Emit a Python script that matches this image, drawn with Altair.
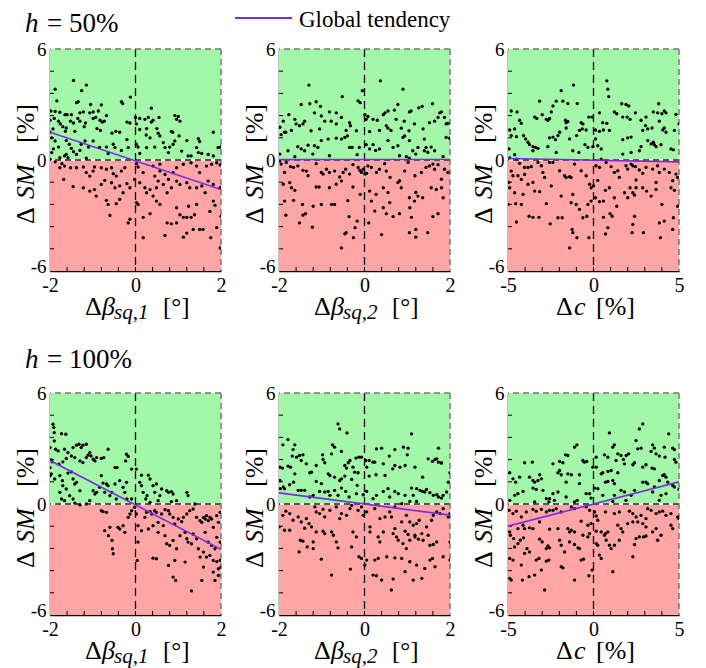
import altair as alt
import pandas as pd

# ---------------- data ----------------
# h = 50 %, delta beta_sq,1
P1 = [(-1.45,4.3),(-1.15,4.05),(-1.88,3.83),(-1.26,3.75),(-0.12,3.4),(-0.33,3.15),(-0.3,3.05),(-1.38,3.1),(-1.34,3.15),(-1.84,3.2),(-1.05,3.0),(-0.8,2.98),(0.37,2.8),
(-1.98,2.65),(-1.88,2.62),(-1.77,2.58),(-1.65,2.45),(-1.6,2.45),(-1.5,2.45),(-1.3,2.55),(-1.22,2.6),(-1.07,2.55),(-0.99,2.6),(-0.87,2.65),(0.0,2.3),(0.1,2.25),(0.22,2.2),(0.3,2.3),(0.41,2.15),(0.55,2.3),(0.92,2.4),(1.0,2.35),(0.96,2.2),(1.04,2.1),(-0.68,2.4),
(-2.0,2.15),(-1.9,2.25),(-1.8,2.1),(-1.76,1.95),(-1.7,1.8),(-1.64,1.55),(-1.52,2.1),(-1.45,2.0),(-1.35,2.25),(-1.3,2.1),(-1.2,1.8),(-1.17,2.0),(-0.99,2.25),(-0.93,2.3),(-0.83,2.15),(-0.78,2.05),(-0.73,2.1),(-0.82,1.6),(-0.9,1.7),(-0.55,1.45),(-0.46,1.55),(-0.37,1.5),(-0.2,2.05),(-0.13,2.0),(-0.2,1.1),(0.02,1.95),(0.1,1.65),(0.26,1.7),(0.37,2.05),(0.5,1.7),(0.25,1.35),(0.34,1.2),(0.53,1.45),(0.57,1.3),(0.84,1.55),(0.87,1.5),(1.02,1.3),(1.2,1.05),(1.47,1.15),(1.5,1.0),(1.82,1.5),(-2.0,1.5),(-1.93,1.68),(-1.62,1.73),(-1.42,1.55),
(-1.96,1.2),(-1.88,1.03),(-1.8,0.7),(-1.92,0.6),(-1.96,0.4),(-1.62,1.05),(-1.55,0.85),(-1.5,0.63),(-1.45,0.45),(-1.62,0.3),(-1.58,0.12),(-1.66,0.22),(-1.38,0.3),(-1.3,0.52),(-1.27,0.85),(-1.18,1.03),(-1.1,0.7),(-0.99,1.03),(-0.84,0.68),(-0.68,0.7),(-0.64,0.35),(-0.52,0.85),(-0.48,0.67),(-0.33,0.52),(-0.17,0.67),(0.02,0.85),(0.06,0.7),(0.1,0.35),(0.26,0.67),(0.45,0.7),(0.65,0.94),(0.69,0.67),(0.8,0.7),(0.88,0.85),(0.92,1.03),(0.77,0.4),(1.08,0.48),(1.23,0.22),(1.3,0.22),(1.43,0.67),(1.47,0.4),(1.55,0.35),(1.7,0.3),(1.82,0.22),(1.93,0.67),(1.98,0.7),(-1.77,0.12),(-1.15,0.1),
(-2.0,0.04),(-1.88,-0.1),(-1.72,-0.2),(-1.66,-0.33),(-1.52,-0.42),(-1.38,-0.42),(-1.22,-0.38),(-1.15,-0.68),(-1.07,-0.87),(-0.99,-0.6),(-0.96,-0.38),(-0.8,-0.42),(-0.68,-0.5),(-0.56,-0.42),(-0.52,-0.74),(-0.45,-0.87),(-0.33,-0.6),(-0.25,-0.42),(0.02,-0.2),(0.06,-0.38),(0.18,-0.68),(0.41,-0.33),(0.45,-0.87),(0.57,-0.6),(0.69,-0.78),(0.88,-0.68),(0.96,-0.42),(1.12,-0.23),(1.3,-0.15),(1.43,-0.33),(1.5,-0.68),(1.66,-0.33),(1.78,-0.23),(1.9,-0.15),(1.98,-0.27),(0.57,-0.23),(-1.77,-0.42),
(-1.68,-1.05),(-1.46,-1.44),(-1.22,-1.5),(-1.07,-1.68),(-0.96,-1.6),(-0.92,-1.95),(-0.8,-1.32),(-0.72,-1.1),(-0.56,-1.23),(-0.48,-1.5),(-0.37,-1.4),(-0.29,-1.77),(-0.2,-1.28),(-0.13,-1.5),(-0.02,-1.05),(0.1,-1.23),(0.22,-1.5),(0.26,-1.77),(0.34,-1.6),(0.49,-1.5),(0.53,-1.14),(0.65,-1.32),(0.77,-1.05),(0.84,-1.5),(0.96,-1.14),(1.04,-1.32),(1.2,-1.23),(1.27,-1.5),(1.43,-1.5),(1.55,-1.4),(1.63,-1.77),(1.7,-1.14),(1.82,-1.32),(1.98,-1.5),(0.74,-1.77),(0.41,-1.95),
(-0.68,-2.18),(-0.64,-2.4),(-0.45,-2.36),(-0.37,-2.13),(-0.17,-3.4),(-0.13,-3.2),(0.02,-2.3),(0.06,-2.4),(0.18,-3.1),(0.34,-2.9),(0.49,-2.22),(0.57,-2.4),(0.74,-3.4),(0.84,-3.45),(1.04,-2.96),(1.12,-3.1),(1.2,-3.1),(1.3,-3.1),(1.38,-2.96),(1.43,-2.4),(1.82,-2.22),(1.86,-2.45),(1.74,-2.78),(2.0,-3.05),(-0.6,-3.0),(1.24,-2.5),(0.96,-2.58),
(0.18,-4.2),(0.69,-4.08),(1.12,-4.17),(1.2,-3.95),(1.35,-3.75),(1.5,-3.75),(1.58,-3.75),(1.76,-4.2),(1.9,-3.66),(1.98,-4.75),(0.96,-3.4)]

# h = 50 %, delta beta_sq,2
P2 = [(-1.3,4.05),(0.37,4.28),(0.9,3.83),(-0.05,3.75),(-0.52,3.43),(-0.15,3.2),(-0.1,3.1),(-1.48,3.0),(-1.28,3.04),(-1.13,3.15),(-1.03,2.9),(0.78,3.0),(1.05,2.6),(1.09,2.65),(1.27,2.82),(1.35,2.9),(1.59,3.04),(1.76,2.55),(1.8,2.6),
(-1.77,2.45),(-1.9,2.1),(-1.98,1.77),(-1.63,2.2),(-1.6,1.95),(-1.52,1.85),(-1.44,1.95),(-1.4,2.1),(-1.17,2.55),(-1.01,2.38),(-0.93,2.1),(-0.82,2.6),(-0.78,2.1),(-0.66,2.55),(-0.66,1.95),(-0.54,2.3),(-0.35,2.02),(-0.33,1.85),(-0.19,1.58),(0.01,2.45),(0.04,2.2),(0.08,2.35),(0.2,2.2),(0.3,2.15),(0.44,2.45),(0.48,2.55),(0.55,2.65),(0.7,2.7),(0.51,1.85),(0.55,1.72),(0.62,1.6),(0.74,2.2),(0.93,2.1),(1.17,1.95),(1.52,2.02),(1.64,2.1),(1.72,2.3),(1.87,2.3),(1.91,1.95),(1.95,1.98),(-1.84,1.5),(-1.71,1.6),(-1.25,1.58),(-1.05,1.68),(-0.43,1.6),(0.12,1.53),(0.35,1.6),(0.86,1.72),(1.04,1.58),(1.37,1.68),
(-1.95,1.37),(-1.87,1.5),(-1.79,0.5),(-1.56,0.72),(-1.48,0.6),(-1.4,0.5),(-1.32,0.8),(-1.17,0.77),(-1.09,0.68),(-1.01,1.05),(-0.85,1.13),(-0.66,1.18),(-0.54,1.13),(-0.46,1.22),(-0.4,1.3),(-0.35,0.68),(-0.29,0.68),(-0.12,0.68),(0.04,0.83),(0.12,0.6),(0.2,0.83),(0.26,0.52),(0.35,0.6),(0.55,1.05),(0.67,0.68),(0.78,0.77),(0.9,1.22),(0.94,1.3),(1.05,1.05),(1.13,0.5),(1.25,0.68),(1.4,1.13),(1.4,0.5),(1.44,0.68),(1.48,0.42),(1.56,0.7),(1.64,0.5),(1.91,1.22),(1.99,1.18),(-1.98,0.32),(-1.63,0.18),(-1.21,0.32),(-0.82,0.23),(-0.17,0.29),(0.82,0.23),(0.98,0.18),(1.05,0.1),(1.2,0.32),(1.84,0.18),
(-1.98,-0.04),(-1.95,-0.22),(-1.83,-0.13),(-1.73,-0.36),(-1.66,-0.4),(-1.87,-0.67),(-1.56,-0.32),(-1.36,-0.6),(-1.32,-0.85),(-1.01,-0.67),(-0.97,-0.76),(-0.82,-0.67),(-0.7,-0.6),(-0.58,-0.92),(-0.5,-0.67),(-0.44,-0.5),(-0.35,-0.76),(-0.27,-0.25),(-0.15,-0.4),(-0.11,-0.56),(-0.07,-0.67),(-0.03,-0.5),(0.01,-0.76),(0.05,-0.72),(0.08,-0.32),(0.16,-0.4),(0.28,-0.67),(0.35,-0.5),(0.47,-0.2),(0.51,-0.6),(0.6,-0.94),(0.82,-1.12),(0.94,-0.6),(1.02,-0.13),(1.18,-0.85),(1.33,-0.67),(1.44,-0.4),(1.52,-0.32),(1.6,-0.22),(1.64,-0.5),(1.72,-0.25),(1.87,-0.5),(1.95,-0.67),(1.8,-1.04),(-0.89,-0.5),(-1.13,-0.2),(-1.44,-0.56),
(-1.9,-1.31),(-1.75,-1.22),(-1.71,-1.5),(-1.63,-1.64),(-1.66,-2.18),(-1.87,-2.22),(-1.13,-1.46),(-1.06,-1.46),(-0.82,-1.5),(-0.66,-1.31),(-0.54,-1.14),(-0.27,-1.46),(0.27,-1.86),(0.44,-1.5),(0.55,-1.75),(0.78,-1.22),(0.86,-1.5),(1.05,-2.04),(1.2,-1.75),(1.25,-1.95),(1.36,-2.04),(1.56,-1.5),(1.68,-1.59),(1.8,-1.5),(1.84,-2.04),(0.16,-2.22),(0.12,-1.68),(-1.45,-2.4),(-1.2,-2.5),(-1.01,-2.4),(-0.77,-2.4),(-0.7,-2.4),(-0.39,-2.2),(-0.1,-1.86),(0.44,-2.58),(0.59,-2.3),(1.06,-2.58),(1.17,-2.22),
(-1.84,-2.98),(-1.44,-2.98),(-1.38,-2.9),(-1.52,-3.4),(-1.22,-3.63),(-0.36,-3.06),(-0.17,-3.3),(-0.22,-3.66),(-0.46,-3.99),(-0.43,-3.93),(-0.54,-4.75),(-0.26,-4.2),(0.1,-3.4),(0.24,-2.76),(0.4,-4.03),(0.51,-2.9),(0.67,-3.06),(0.82,-2.9),(1.1,-3.1),(1.05,-3.93),(1.2,-3.75),(1.2,-4.17),(1.48,-3.93),(1.6,-3.06),(1.72,-2.9)]

# h = 50 %, delta c
P3 = [(0.78,4.28),(0.84,3.83),(-1.17,4.05),(-1.89,3.75),(0.89,3.43),(-3.15,3.18),(-2.18,3.18),(-1.79,3.18),(-1.5,3.05),(-0.95,3.05),(-2.37,2.92),(1.65,3.04),(1.9,3.0),(2.06,2.92),(2.45,2.55),(3.81,3.04),(-4.81,2.65),(-4.47,2.6),(-3.44,2.32),(-3.31,2.25),(-3.0,2.45),(-2.76,2.2),(-2.67,2.15),(-2.57,2.25),(-2.47,2.6),(-1.64,2.15),(-1.6,2.02),(-1.5,2.08),(-0.27,2.32),(-0.08,2.32),(0.35,2.55),(0.54,2.02),(1.22,2.6),(1.36,2.5),(1.71,2.32),(1.97,2.32),(2.14,2.2),(2.78,2.15),(3.07,2.32),(3.5,2.6),(3.75,2.55),(4.0,2.5),(4.14,2.65),(4.24,2.55),(4.82,2.47),(3.85,2.1),(-4.32,2.15),(-4.22,1.98),(-0.72,2.02),(-0.62,1.95),
(-4.9,1.62),(-4.61,1.68),(-4.81,1.32),(-4.51,1.26),(-4.09,1.32),(-3.97,1.14),(-3.83,0.96),(-3.74,0.83),(-3.54,0.72),(-3.39,0.68),(-3.25,0.63),(-2.67,0.72),(-2.57,1.2),(-2.37,1.24),(-2.22,1.1),(-2.08,1.32),(-1.98,1.5),(-1.6,1.73),(-1.4,1.14),(-0.82,1.6),(-0.66,1.68),(-0.43,1.62),(0.12,1.62),(0.12,1.14),(0.35,1.55),(0.58,1.62),(0.78,1.98),(0.93,1.6),(1.71,1.1),(2.0,1.2),(2.2,1.24),(2.88,1.6),(3.04,1.86),(3.17,1.68),(3.42,1.73),(3.5,0.96),(3.56,0.83),(3.66,0.72),(3.95,0.83),(4.05,1.62),(4.14,1.73),(4.24,1.5),(4.73,1.6),(5.0,1.95),(2.78,0.72),(3.17,1.05),(3.37,0.87),(-0.99,1.32),(-0.5,0.83),(-0.33,0.68),(-0.04,0.72),(0.25,0.77),(0.45,0.6),(-3.54,0.5),(-2.18,0.41),(-1.21,0.5),(-0.86,0.41),(-4.94,0.6),(-4.61,0.29),(1.71,0.32),(2.2,0.41),(2.68,0.5),(4.53,0.6),(4.67,0.55),
(-4.9,0.11),(-4.51,0.05),(-4.32,-0.18),(-4.03,-0.4),(-3.83,-0.4),(-3.64,-0.36),(-4.81,-0.6),(-4.71,-0.85),(-4.42,-0.85),(-4.03,-0.78),(-4.22,-1.05),(-3.25,-0.13),(-3.05,-0.31),(-2.96,-0.67),(-2.86,-0.94),(-2.57,-0.13),(-2.37,-0.13),(-2.47,-1.4),(-1.98,-0.58),(-1.69,-0.85),(-1.6,-0.94),(-1.4,-0.9),(-1.31,-0.94),(-1.11,-0.22),(-0.72,-0.58),(-0.43,-0.85),(0.15,-0.31),(0.35,-0.4),(0.45,0.05),(0.74,-0.13),(1.03,-0.36),(1.22,-0.67),(1.42,-0.58),(1.51,-0.94),(1.9,-0.31),(2.0,-0.49),(2.2,-0.22),(2.3,-0.31),(2.45,-0.36),(2.68,-0.54),(2.88,-0.72),(3.07,-0.4),(3.46,-0.49),(3.75,-0.31),(3.85,-0.67),(4.14,-0.49),(4.43,-0.67),(4.63,-1.12),(4.82,-0.76),(4.92,-0.94),(-4.96,-1.21),(-3.83,-1.31),(-3.54,-1.21),(2.49,-1.08),(3.66,-1.21),
(-4.9,-1.5),(-4.61,-1.77),(-4.12,-1.86),(-3.44,-1.68),(-3.15,-1.71),(-1.89,-1.95),(-2.76,-2.36),(-5.0,-2.4),(-4.55,-2.36),(-4.22,-2.4),(-0.23,-1.31),(-0.14,-1.5),(0.0,-1.4),(0.12,-2.04),(0.25,-1.1),(0.35,-2.25),(0.58,-2.22),(0.7,-1.64),(0.93,-1.5),(1.22,-2.04),(1.36,-2.5),(1.81,-1.77),(2.0,-2.04),(2.14,-1.5),(2.3,-1.77),(2.4,-1.9),(2.49,-1.5),(2.88,-1.5),(3.11,-1.68),(3.37,-1.95),(3.66,-1.59),(4.0,-2.4),(4.53,-1.5),(4.73,-1.64),(4.92,-2.5),(-1.01,-2.4),(-0.82,-2.67),(-0.33,-2.4),(-0.14,-2.22),(-1.31,-2.31),(-1.21,-1.86),
(-4.51,-3.35),(-3.77,-3.04),(-3.54,-3.1),(-3.19,-3.1),(-2.53,-3.45),(-2.08,-3.12),(-1.83,-3.12),(-1.25,-3.75),(-1.21,-3.93),(-0.97,-4.2),(-1.4,-4.75),(-0.62,-3.12),(-0.39,-3.04),(-0.27,-4.2),(0.58,-3.1),(0.7,-4.0),(0.84,-3.66),(0.97,-2.9),(1.09,-3.04),(2.3,-3.48),(2.4,-3.04),(2.26,-3.93),(2.92,-3.93),(3.91,-4.2),(3.85,-3.4),(4.14,-3.3),(4.67,-3.12),(4.63,-3.75)]

# h = 100 %, delta beta_sq,1
P4 = [(-1.93,4.31),(-1.91,4.13),(-1.9,3.86),(-1.73,3.8),(-1.63,3.77),(-1.9,3.41),(-2.0,3.05),(-1.87,2.96),(-1.81,2.87),(-1.66,2.96),(-1.58,2.78),(-1.46,3.05),(-1.38,3.18),(-1.32,3.23),(-1.27,3.05),(-1.23,3.18),(-1.15,3.23),(-1.07,2.78),(-1.11,2.64),(-1.04,2.6),(-0.99,2.42),(-0.95,2.33),(-0.91,2.51),(-1.15,2.51),(-1.23,2.24),(-1.3,2.33),(-1.42,2.51),(-1.5,2.6),(-1.62,2.46),(-1.7,2.28),(-1.79,2.15),(-1.97,2.39),(-1.95,2.28),(-2.0,1.97),(-1.97,1.62),(-2.0,1.53),(-0.8,2.46),(-0.74,2.51),(-0.64,2.96),(-0.48,1.97),(-0.43,1.97),(-0.21,2.69),(-0.17,2.57),(-0.23,2.33),(-0.09,1.89),(0.02,1.89),(0.14,1.56),(0.3,1.56),(0.34,1.35),
(-1.89,1.35),(-1.77,1.53),(-1.71,1.26),(-1.7,0.99),(-1.58,1.67),(-1.5,1.74),(-1.46,1.35),(-1.42,1.08),(-1.38,1.17),(-1.3,0.72),(-1.62,0.81),(-1.77,0.63),(-1.73,0.27),(-1.66,0.18),(-1.54,0.45),(-1.46,0.27),(-1.42,0.05),(-1.3,-0.05),(-1.15,0.0),(-1.07,0.18),(-0.99,0.72),(-0.95,0.54),(-0.91,0.63),(-0.84,0.9),(-0.8,1.53),(-0.72,0.63),(-0.68,1.08),(-0.64,0.99),(-0.6,0.45),(-0.56,0.63),(-0.48,1.08),(-0.45,0.27),(-0.29,0.9),(-0.25,0.63),(-0.21,1.17),(-0.2,0.27),(-0.09,0.27),(0.1,1.17),(0.14,0.99),(0.18,0.63),(0.24,0.27),(0.27,0.45),(0.34,0.09),(0.41,0.99),(0.45,0.63),(0.49,1.08),(0.53,0.18),(0.57,0.45),(0.61,0.81),(0.73,0.72),(0.77,0.63),(0.84,0.67),(0.88,0.54),(0.96,0.18),(1.2,0.63),(1.23,0.45),(1.39,0.0),(0.84,0.13),(-0.76,1.13),(-0.37,1.26),
(-0.8,-0.36),(-0.76,-0.41),(-0.68,-0.45),(-0.72,-1.44),(-0.6,-1.26),(-0.41,-1.26),(-0.37,-1.35),(-0.25,-1.53),(-0.29,-1.17),(-0.17,-0.72),(-0.13,-0.54),(-0.09,-0.36),(-0.02,-0.18),(0.02,-0.54),(0.06,-1.17),(0.14,-1.44),(0.22,-0.72),(0.26,-0.45),(0.34,-0.41),(0.38,-0.54),(0.45,-0.36),(0.49,-0.45),(0.53,-0.99),(0.61,-0.54),(0.69,-0.31),(0.77,-0.36),(0.8,-0.54),(0.88,-0.72),(0.92,-1.08),(1.0,-0.81),(1.08,-0.95),(1.12,-0.72),(1.2,-0.54),(1.27,-0.36),(1.35,-0.27),(1.43,-0.72),(1.51,-0.9),(1.55,-0.99),(1.59,-0.72),(1.63,-0.81),(1.66,-0.63),(1.7,-0.9),(1.74,-0.72),(1.78,-0.81),(1.82,-1.26),(1.9,-0.63),(1.94,-0.99),(1.98,-0.45),(0.3,-1.35),(0.41,-1.17),(0.65,-1.17),
(-0.63,-1.71),(-0.55,-1.97),(-0.54,-2.42),(-0.52,-2.69),(0.06,-2.06),(0.04,-3.05),(0.41,-2.93),(0.49,-2.96),(0.53,-1.53),(0.69,-1.71),(0.73,-2.15),(0.8,-2.24),(0.88,-1.97),(0.96,-2.42),(1.04,-1.71),(1.16,-1.53),(1.2,-1.88),(1.23,-2.06),(1.31,-2.15),(1.35,-1.62),(1.43,-1.88),(1.47,-2.42),(1.59,-2.6),(1.63,-1.53),(1.7,-2.06),(1.78,-2.24),(1.86,-2.42),(1.9,-1.8),(1.98,-2.06),(1.66,-2.87),(1.74,-2.78),(1.82,-3.05),(1.9,-3.11),(1.98,-3.05),(0.92,-3.05),(0.77,-3.32),(1.16,-3.14),(1.51,-2.87),
(0.88,-3.95),(0.94,-4.13),(1.31,-4.7),(1.55,-4.13),(1.59,-3.41),(1.82,-3.68),(1.86,-4.13),(1.94,-3.86),(2.0,-3.41),(1.94,-3.5)]

# h = 100 %, delta beta_sq,2
P5 = [(-0.62,4.33),(-0.58,4.06),(-0.41,3.84),(1.1,3.79),(-1.79,3.48),(-1.91,3.2),(-1.63,3.2),(-1.67,2.94),(-0.75,3.2),(-0.7,3.07),(-0.77,2.71),(-0.98,2.66),(-0.54,2.84),(-0.34,2.35),(-0.2,2.48),(-0.13,2.53),(-0.07,2.53),(0.03,2.35),(0.11,2.35),(0.2,2.26),(0.24,2.26),(0.28,2.98),(0.4,3.02),(0.58,2.59),(0.71,2.94),(0.91,3.07),(1.02,3.02),(1.0,2.66),(1.73,3.02),(1.69,2.44),(1.73,2.26),(1.8,2.22),(1.59,2.3),
(-1.98,1.99),(-1.92,1.94),(-1.79,2.05),(-1.73,1.99),(-1.69,2.59),(-1.59,2.53),(-1.52,2.62),(-1.44,2.66),(-1.48,2.35),(-1.36,2.17),(-1.28,1.69),(-1.24,1.72),(-1.13,2.08),(-0.97,2.41),(-0.93,2.23),(-0.85,1.63),(-0.81,1.54),(-0.46,2.08),(-0.42,1.94),(-0.38,2.23),(-0.27,1.99),(-0.23,1.72),(-0.15,1.69),(0.05,1.99),(0.11,1.51),(0.27,1.58),(0.44,2.17),(0.48,1.54),(0.66,1.9),(0.71,2.08),(0.83,1.99),(0.95,2.08),(1.18,1.99),(1.36,1.45),(1.49,2.44),(1.65,2.41),(1.8,2.22),(2.0,1.69),(-1.63,1.63),(-1.13,1.22),(-0.7,1.45),(-0.58,1.27),(-0.54,1.36),(-0.46,1.51),(-0.3,1.33),(-0.17,1.01),
(-1.98,1.27),(-1.97,0.83),(-1.9,0.92),(-1.87,0.83),(-1.75,1.04),(-1.66,1.18),(-1.55,0.74),(-1.48,0.74),(-1.4,0.74),(-1.28,0.38),(-1.2,0.47),(-1.05,0.68),(-1.01,1.1),(-0.93,0.65),(-0.85,0.68),(-0.81,0.47),(-0.7,0.74),(-0.62,0.47),(-0.54,0.86),(-0.44,0.68),(-0.36,0.38),(-0.19,0.56),(-0.03,0.5),(0.05,0.68),(0.2,0.29),(0.28,0.47),(0.44,0.68),(0.55,0.83),(0.59,0.38),(0.71,0.68),(0.79,0.56),(0.95,0.47),(1.1,0.86),(1.14,0.47),(1.22,0.83),(1.3,0.74),(1.36,0.68),(1.41,0.65),(1.45,0.79),(1.53,0.61),(1.61,0.47),(1.69,0.5),(1.73,0.38),(1.8,0.32),(1.84,0.47),(1.92,0.65),(1.96,1.18),(1.06,0.14),(1.22,0.14),(0.87,0.02),
(-2.0,-1.24),(-1.91,-0.61),(-1.84,-0.39),(-1.75,-0.52),(-1.67,-0.88),(-1.55,-0.7),(-1.48,-0.97),(-1.36,-0.79),(-1.3,-1.06),(-1.24,-1.24),(-1.16,-0.16),(-1.13,-0.43),(-1.05,-0.52),(-0.97,-0.29),(-0.93,-0.7),(-0.81,-0.34),(-0.66,-0.16),(-0.58,-0.79),(-0.54,-0.52),(-0.42,-0.61),(-0.34,-0.25),(-0.3,-0.07),(-0.15,-0.34),(-0.07,-0.16),(-0.03,-0.61),(0.05,-0.43),(0.13,-1.24),(0.24,-0.25),(0.36,-0.79),(0.48,-0.7),(0.59,-0.43),(0.63,-0.7),(0.71,-0.16),(0.87,-0.97),(0.98,-0.61),(1.06,-0.97),(1.14,-1.15),(1.22,-1.06),(1.28,-0.88),(1.45,-1.24),(1.57,-0.88),(1.61,-0.61),(1.69,-0.43),(1.77,-0.52),(1.84,-0.25),(1.96,-0.7),(2.0,-0.52),(-1.87,-1.42),(-1.75,-1.42),(-1.4,-1.31),(-1.13,-1.51),(-0.97,-1.47),(-0.77,-1.51),(-0.27,-1.51),(0.44,-1.51),(0.71,-1.33),(0.95,-1.47),(1.02,-1.65),(1.18,-1.69),(1.34,-1.6),(1.49,-1.69),
(-1.5,-1.96),(-1.44,-2.01),(-1.53,-2.59),(-1.34,-2.32),(-1.2,-2.41),(-1.2,-2.05),(-0.93,-1.6),(-0.73,-1.69),(-0.66,-2.05),(-0.62,-2.37),(-0.3,-2.32),(-0.19,-1.78),(0.13,-1.51),(0.32,-1.78),(0.36,-2.05),(0.67,-1.6),(0.75,-1.78),(0.79,-1.96),(0.9,-2.14),(0.98,-2.41),(1.06,-1.96),(1.18,-1.78),(1.26,-1.9),(1.37,-1.96),(1.53,-2.23),(1.61,-2.19),(1.69,-2.05),(2.0,-2.05),(-1.01,-2.98),(-0.13,-2.85),(-0.07,-2.94),(0.05,-3.03),(0.24,-3.03),(0.32,-2.94),(0.52,-2.85),(0.71,-2.91),(0.87,-2.94),(1.06,-3.12),(1.53,-3.03),(1.59,-2.94),(1.84,-2.85),(2.0,-3.03),
(0.01,-3.3),(-0.33,-3.52),(-0.77,-3.84),(0.2,-3.84),(0.28,-3.88),(0.4,-4.11),(0.63,-4.65),(0.67,-4.06),(0.95,-3.66),(1.14,-4.11),(1.22,-3.3),(1.34,-4.02),(1.41,-3.48),(1.65,-3.39)]

# h = 100 %, delta c
P6 = [(2.88,4.33),(2.68,4.06),(4.4,3.79),(0.93,3.84),(2.49,3.43),(1.22,3.2),(1.13,3.07),(-0.97,3.2),(-1.11,3.07),(2.78,3.02),(3.46,3.2),(3.56,3.02),(4.14,3.07),(4.63,3.02),(4.73,2.94),(3.37,2.84),(3.66,2.71),(3.85,2.59),(4.18,2.53),(4.73,2.41),(4.82,2.26),(2.59,2.98),(1.91,2.62),(2.06,2.71),(1.61,2.62),(1.42,2.71),(0.64,2.66),(0.84,2.53),(0.16,2.53),(-1.63,2.66),(-1.5,2.62),(-0.62,2.35),(-0.53,2.26),(-0.39,2.3),(-1.98,2.3),(-2.37,2.17),(-1.79,2.23),(-4.03,2.23),(-3.58,2.26),(1.32,2.35),(1.75,2.41),(1.81,2.17),(2.3,2.12),(2.4,2.23),(2.88,1.99),(3.07,2.12),(3.42,1.94),(3.56,1.9),(-0.04,1.99),(0.16,1.99),
(-4.9,1.69),(-4.71,1.36),(-4.55,1.18),(-4.32,1.45),(-3.74,1.45),(-3.54,1.27),(-3.44,1.18),(-3.25,1.27),(-3.15,1.58),(-3.05,1.36),(-3.54,0.86),(-3.35,0.79),(-2.96,0.74),(-4.61,0.47),(-4.42,0.56),(-4.12,0.68),(-2.08,1.69),(-1.98,1.81),(-1.89,1.58),(-1.5,1.63),(-1.3,1.58),(-0.82,1.58),(-1.6,1.18),(-2.08,0.65),(-2.37,0.56),(-2.57,0.29),(-2.76,0.29),(-1.6,0.38),(-0.82,1.1),(-0.43,0.56),(-0.23,0.56),(-0.14,0.32),(0.06,0.86),(0.25,0.83),(0.45,1.63),(0.54,1.69),(0.7,1.18),(0.84,1.22),(1.13,1.27),(1.22,1.1),(1.03,1.81),(0.84,1.76),(1.42,1.69),(1.22,0.47),(1.61,0.74),(1.81,0.65),(2.2,0.47),(1.9,0.2),(2.4,0.74),(2.88,1.18),(3.07,1.18),(3.17,1.1),(3.46,0.65),(3.56,0.92),(3.85,1.27),(4.05,1.54),(4.14,1.58),(4.24,1.45),(4.34,1.18),(4.63,1.01),(4.73,0.92),(5.0,0.79),(3.85,0.2),(3.95,0.47),(4.24,0.56),(-4.9,0.2),(-3.44,0.11),(-2.61,0.11),(-2.28,0.2),(-1.11,0.11),(-0.95,0.2),(0.54,0.47),(1.13,0.14),
(-4.94,-0.34),(-4.71,-0.52),(-4.51,-0.39),(-4.22,-0.7),(-3.93,-0.43),(-3.54,-0.29),(-3.35,-0.39),(-3.05,-0.29),(-2.76,-0.43),(-2.57,-0.34),(-2.37,-0.34),(-2.18,-0.25),(-1.89,-0.43),(-1.3,-0.16),(-1.11,-0.25),(-0.43,-0.16),(-0.23,-0.34),(0.06,-0.43),(0.16,-0.65),(0.25,-0.88),(0.7,-0.43),(1.22,-0.52),(1.51,-0.43),(2.1,-0.39),(2.3,-0.52),(2.49,-0.7),(2.78,-0.61),(3.07,-0.79),(3.17,-0.25),(3.37,-0.34),(3.66,-0.52),(3.85,-0.43),(4.05,-0.39),(4.24,-0.61),(4.53,-0.52),(4.92,-0.7),(4.98,-0.79),(4.53,-1.15),(4.63,-1.33),(-4.9,-1.51),(-4.42,-1.33),(-4.12,-1.15),(-4.03,-1.33),(-3.74,-1.29),(-3.54,-1.33),(-3.15,-0.97),(-2.57,-1.36),(-2.08,-1.33),(-1.5,-1.33),(-1.4,-1.51),(-1.3,-1.42),(-1.11,-1.51),(-0.72,-0.93),(-0.33,-1.15),(-0.14,-1.06),(0.16,-1.47),(0.45,-1.51),(0.7,-1.6),(0.84,-1.51),(1.42,-1.15),(1.61,-1.33),(1.71,-1.51),(2.0,-1.06),(2.3,-0.97),(2.59,-0.97),(2.88,-1.06),(3.07,-1.24),(3.46,-1.51),(3.66,-1.33),
(-4.86,-1.69),(-4.67,-1.87),(-4.42,-2.14),(-4.28,-1.96),(-4.09,-1.83),(-4.61,-2.32),(-3.89,-2.41),(-3.74,-2.59),(-4.03,-2.67),(-3.15,-1.9),(-3.0,-2.05),(-2.67,-2.26),(-2.76,-2.41),(-2.57,-2.37),(-1.98,-1.96),(-1.89,-2.23),(-1.69,-2.59),(-1.4,-2.05),(-1.11,-2.19),(-0.91,-2.37),(-0.82,-2.41),(-0.62,-1.69),(-0.33,-1.78),(-0.23,-1.6),(0.16,-2.14),(0.25,-2.23),(0.35,-2.76),(0.45,-2.94),(0.64,-1.69),(0.74,-1.96),(0.93,-2.23),(1.03,-2.41),(1.22,-2.23),(1.51,-1.96),(2.3,-2.85),(2.4,-2.19),(2.49,-1.87),(2.68,-1.78),(2.92,-1.78),(3.07,-1.73),(3.75,-1.96),(3.95,-1.69),(-4.9,-2.94),(-4.71,-3.03),(-4.22,-3.3),
(-4.9,-4.02),(-4.81,-4.11),(-4.16,-4.11),(-3.77,-3.93),(-3.44,-3.84),(-3.35,-3.03),(-3.19,-2.94),(-3.05,-3.57),(-2.86,-4.65),(-2.76,-3.09),(-2.61,-3.03),(-1.89,-3.39),(-1.79,-3.45),(-1.11,-4.11),(-0.72,-3.03),(-0.58,-2.98),(-0.27,-3.88),(-0.08,-3.57),(1.13,-3.66)]

# global tendency end-points (value at left edge, value at right edge)
TREND_START = [1.5, 0.02, 0.08, 2.35, 0.6, -1.2]
TREND_END = [-1.6, 0.03, -0.1, -2.45, -0.6, 1.2]

X_DOMAINS = [[-2, 2], [-2, 2], [-5, 5]]
X_MAJOR = [[-2, 0, 2], [-2, 0, 2], [-5, 0, 5]]
X_MINOR = [[-1.6, -1.2, -0.8, -0.4, 0, 0.4, 0.8, 1.2, 1.6],
           [-1.6, -1.2, -0.8, -0.4, 0, 0.4, 0.8, 1.2, 1.6],
           [-4, -3, -2, -1, 0, 1, 2, 3, 4]]
Y_MAJOR = [-6, 0, 6]
Y_MINOR = [-4.8, -3.6, -2.4, -1.2, 1.2, 2.4, 3.6, 4.8]

X_SUBSCRIPTS = ["sq,1", "sq,2", None]
ROW_LABELS = ["50%", "100%"]
LEGEND_LABEL = "Global tendency"

# ---------------- style ----------------
W, H = 171, 222
GREEN = "#a2f7a8"
RED = "#ffa5a5"
PURPLE = "#7b2ae0"
FONT = "Liberation Serif"


def txt(s, x, y, size, style="normal", angle=0, baseline="alphabetic", align="left"):
    kw = dict(font=FONT, fontSize=size, fontStyle=style, align=align,
              baseline=baseline, color="black")
    if angle:
        kw["angle"] = angle
    return alt.Chart(pd.DataFrame({"t": [s]})).mark_text(**kw).encode(
        text="t:N", x=alt.value(x), y=alt.value(y))


def panel(pts, col, idx, row):
    xdom = X_DOMAINS[col]
    xs = alt.Scale(domain=xdom, nice=False, zero=False)
    ys = alt.Scale(domain=[-6, 6], nice=False, zero=False)
    ax_x = alt.Axis(values=X_MAJOR[col], title=None, ticks=False, grid=False,
                    labelFont=FONT, labelFontSize=20, labelColor="black", labelPadding=4,
                    labelFlush=False, labelOverlap=False, domainColor="black",
                    domainWidth=1.5, labelExpr="replace(datum.label, '\u2212', '-')")
    ax_y = alt.Axis(values=Y_MAJOR, title=None, ticks=False, grid=False,
                    labelFont=FONT, labelFontSize=19, labelColor="black", labelPadding=4,
                    labelFlush=False, labelOverlap=False, domainColor="black",
                    domainWidth=1.5, labelExpr="replace(datum.label, '\u2212', '-')",
                    labelOffset={"condition": {"test": "datum.value < 0", "value": -5},
                                 "value": 0})

    def X(f):
        return alt.X(f, scale=xs, axis=ax_x)

    def Y(f):
        return alt.Y(f, scale=ys, axis=ax_y)

    bg = pd.DataFrame({"x": [xdom[0], xdom[0]], "x2": [xdom[1], xdom[1]],
                       "y": [0, -6], "y2": [6, 0], "c": ["up", "down"]})
    rect = alt.Chart(bg).mark_rect().encode(
        x=X("x:Q"), x2="x2:Q", y=Y("y:Q"), y2="y2:Q",
        color=alt.Color("c:N", scale=alt.Scale(domain=["up", "down"], range=[GREEN, RED]),
                        legend=None),
    )

    zero_white = alt.Chart(pd.DataFrame({"y": [0]})).mark_rule(
        color="white", strokeWidth=1.5).encode(y=Y("y:Q"))
    zero_dash = alt.Chart(pd.DataFrame({"y": [0]})).mark_rule(
        color="#222222", strokeWidth=1.3, strokeDash=[6, 4]).encode(y=Y("y:Q"))
    vert_dash = alt.Chart(pd.DataFrame({"x": [0]})).mark_rule(
        color="black", strokeWidth=1.3, strokeDash=[8, 5]).encode(x=X("x:Q"))
    top_dash = alt.Chart(pd.DataFrame({"y": [6]})).mark_rule(
        color="#777777", strokeWidth=1.5, strokeDash=[6, 4]).encode(y=Y("y:Q"))
    right_dash = alt.Chart(pd.DataFrame({"x": [xdom[1]]})).mark_rule(
        color="#777777", strokeWidth=1.5, strokeDash=[6, 4]).encode(x=X("x:Q"))

    xt = alt.Chart(pd.DataFrame({"x": X_MINOR[col]})).mark_rule(
        color="black", strokeWidth=1).encode(
        x=X("x:Q"), y=alt.value(H), y2=alt.value(H - 4))
    yt = alt.Chart(pd.DataFrame({"y": Y_MINOR})).mark_rule(
        color="black", strokeWidth=1).encode(
        y=Y("y:Q"), x=alt.value(0), x2=alt.value(4))

    df = pd.DataFrame(pts, columns=["x", "y"])
    dots = alt.Chart(df).mark_circle(size=11, color="black", opacity=1, clip=True).encode(
        x=X("x:Q"), y=Y("y:Q"))

    tr = pd.DataFrame({"x": xdom, "y": [TREND_START[idx], TREND_END[idx]]})
    trend = alt.Chart(tr).mark_line(color=PURPLE, strokeWidth=1.6, clip=True).encode(
        x=X("x:Q"), y=Y("y:Q"))

    layers = [rect, zero_white, zero_dash, vert_dash, top_dash, right_dash,
              xt, yt, dots, trend]

    # y axis title  "Δ SM [%]"
    layers += [txt("Δ", -24, 175, 26, angle=270, baseline="middle"),
               txt("SM", -24, 150, 26, style="italic", angle=270, baseline="middle"),
               txt("[%]", -24, 94, 26, angle=270, baseline="middle")]

    # x axis title
    base = H + 44
    if X_SUBSCRIPTS[col] is not None:
        layers += [txt("Δ", 35, base, 26),
                   txt("β", 52, base, 26, style="italic"),
                   txt(X_SUBSCRIPTS[col], 64, base + 4, 21, style="italic"),
                   txt("[°]", 113, base, 25)]
    else:
        layers += [txt("Δ", 48, base, 26),
                   txt("c", 66, base, 26, style="italic"),
                   txt("[%]", 88, base, 26)]

    if col == 0:
        yb = -17 if row == 0 else -25
        layers += [txt("h", -25, yb, 27, style="italic"),
                   txt("= " + ROW_LABELS[row], -3, yb, 27)]
    if col == 1 and row == 0:
        layers += [alt.Chart(pd.DataFrame({"t": [LEGEND_LABEL]})).mark_rule(
                       color=PURPLE, strokeWidth=2).encode(
                       x=alt.value(-44), x2=alt.value(13), y=alt.value(-31)),
                   txt(LEGEND_LABEL, 20, -22, 23)]

    return alt.layer(*layers).properties(width=W, height=H)


PANELS = [P1, P2, P3, P4, P5, P6]
cells = [panel(p, i % 3, i, i // 3) for i, p in enumerate(PANELS)]

chart = alt.concat(*cells, columns=3, spacing={"row": 122, "column": 58},
                   bounds="flush").properties(
    padding={"left": 5, "top": 1, "right": 5, "bottom": 3},
    background="white",
).configure_view(stroke=None)

chart.save("out.html", embed_options={"renderer": "svg", "actions": False})
